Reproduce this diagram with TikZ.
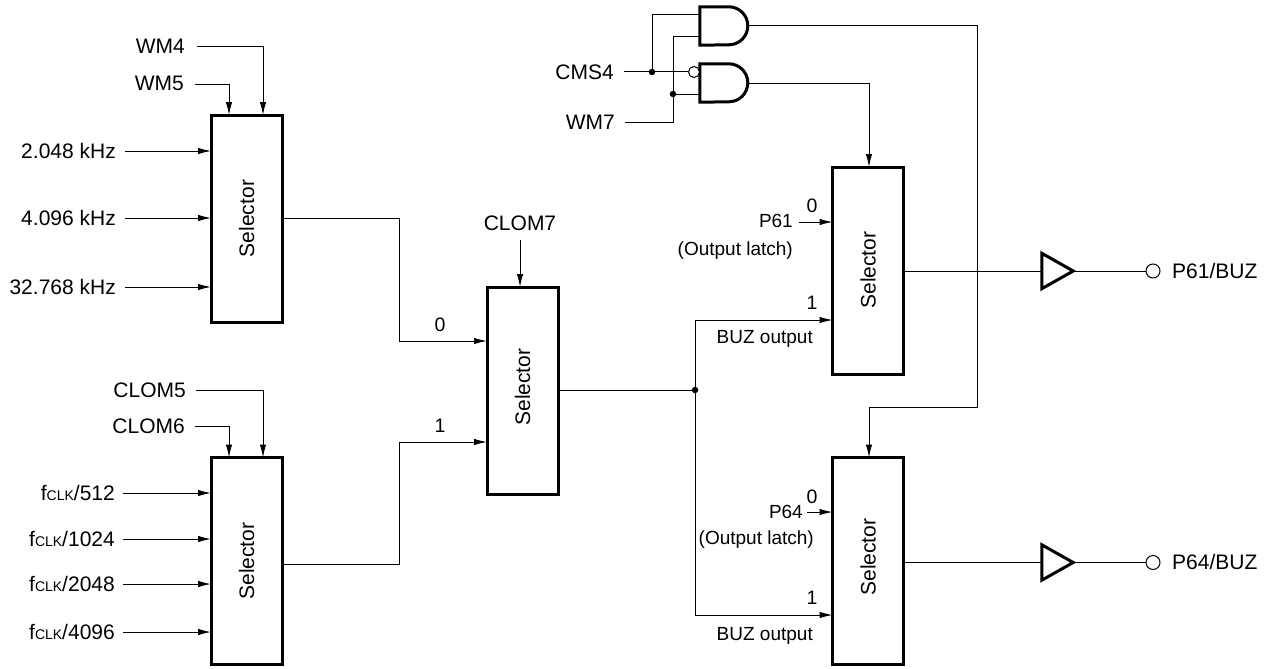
\documentclass[tikz,border=0pt]{standalone}
\usepackage{fontspec}
\setmainfont{Liberation Sans}
\usetikzlibrary{arrows.meta}
\tikzset{
  wire/.style={line width=1pt,line join=miter},
  arr/.style={wire,-{Latex[length=13pt,width=6.5pt]}},
  heavy/.style={line width=3pt,line join=miter},
  selbox/.style={draw,line width=3pt,outer sep=0pt,minimum width=71pt,minimum height=207pt,inner sep=0pt},
  seltext/.style={rotate=90,font=\fontsize{21}{24}\selectfont},
  lbl/.style={inner ysep=0pt,inner xsep=9pt,anchor=east,text height=14pt,text depth=0pt,font=\fontsize{21}{24}\selectfont},
  small/.style={inner sep=0pt,anchor=east,text height=13pt,text depth=0pt,font=\fontsize{19}{22}\selectfont},
  num/.style={inner sep=0pt,text height=12pt,text depth=0pt,font=\fontsize{19.5}{22}\selectfont},
  dotj/.style={circle,fill,inner sep=0pt,minimum size=6.5pt},
  bub/.style={circle,draw,fill=white,line width=1pt,inner sep=0pt,minimum size=14pt},
  gatebox/.style={inner sep=0pt,minimum width=48pt,minimum height=38pt},
  bufbox/.style={inner sep=0pt,minimum width=31pt,minimum height=35pt},
}
\newcommand{\fclk}[1]{f{\fontsize{14}{16}\selectfont CLK}/#1}
\begin{document}
\begin{tikzpicture}[x=1pt,y=-1pt]
\useasboundingbox (0,0) rectangle (1266,669);
% selectors
\node[selbox] (selA) at (246.5,218.5) {};
\node[selbox] (selB) at (246.5,561) {};
\node[selbox] (selC) at (522.5,390.5) {};
\node[selbox] (selD) at (868,270.5) {};
\node[selbox] (selE) at (868,561) {};
\node[seltext] (selAt) at (selA.center) {Selector};
\node[seltext] (selBt) at (selB.center) {Selector};
\node[seltext] (selCt) at (522.5,387) {Selector};
\node[seltext] (selDt) at (868,270) {Selector};
\node[seltext] (selEt) at (868,557) {Selector};
% left inputs A
\node[lbl,inner xsep=12pt] (wm4) at (197,47) {WM4};
\node[lbl,inner xsep=11pt] (wm5) at (195,84) {WM5};
\draw[arr] (wm4.east) -- (263,47) coordinate (wm4c) -- (wm4c |- selA.north);
\draw[arr] (wm5.east) -- (229,84) coordinate (wm5c) -- (wm5c |- selA.north);
\node[lbl] (fa) at (125,151) {2.048 kHz};
\node[lbl] (fb) at (125,218) {4.096 kHz};
\node[lbl] (fc) at (125,287) {32.768 kHz};
\foreach \n in {fa,fb,fc} \draw[arr] (\n.east) -- (\n.east -| selA.west);
% left inputs B
\node[lbl,inner xsep=10pt] (cl5) at (196,390) {CLOM5};
\node[lbl,inner xsep=10pt] (cl6) at (195,426) {CLOM6};
\draw[arr] (cl5.east) -- (263,390) coordinate (cl5c) -- (cl5c |- selB.north);
\draw[arr] (cl6.east) -- (229,426) coordinate (cl6c) -- (cl6c |- selB.north);
\node[lbl,inner xsep=8pt] (k1) at (123,493) {\fclk{512}};
\node[lbl,inner xsep=8pt] (k2) at (123,539) {\fclk{1024}};
\node[lbl,inner xsep=8pt] (k3) at (123,584) {\fclk{2048}};
\node[lbl,inner xsep=8pt] (k4) at (123,632) {\fclk{4096}};
\foreach \n in {k1,k2,k3,k4} \draw[arr] (\n.east) -- (\n.east -| selB.west);
% middle
\coordinate (ain) at (selC.west |- 0,341);
\coordinate (bin) at (selC.west |- 0,442);
\draw[arr] (selA.east |- 0,218) -- (399,218) -- (399,341) -- (ain);
\draw[arr] (selB.east |- 0,564) -- (399,564) -- (399,442) -- (bin);
\node[num] (n0a) at (440,325) {0};
\node[num] (n1a) at (440,426) {1};
\node[lbl,anchor=center] (clom7) at (520,223) {CLOM7};
\draw[arr] (520,240) coordinate (c7) -- (c7 |- selC.north);
% junction
\node[dotj] (jm) at (695,390) {};
\draw[wire] (selC.east |- jm) -- (jm);
\coordinate (d1) at (selD.west |- 0,320);
\coordinate (e1) at (selE.west |- 0,615);
\draw[arr] (jm) -- (695,320) -- (d1);
\draw[arr] (jm) -- (695,615) -- (e1);
% selector D labels
\node[small] (p61) at (793,221) {P61};
\draw[arr] (799,222) coordinate (p61a) -- (p61a -| selD.west);
\node[num] (n0d) at (812,206) {0};
\node[small] (la1) at (793,249) {(Output latch)};
\node[num] (n1d) at (812,303) {1};
\node[small] (buz1) at (813,337) {BUZ output};
% selector E labels
\node[small] (p64) at (803,512) {P64};
\draw[arr] (807,512) coordinate (p64a) -- (p64a -| selE.west);
\node[num] (n0e) at (812,497) {0};
\node[small] (la2) at (814,538) {(Output latch)};
\node[num] (n1e) at (812,598) {1};
\node[small] (buz2) at (813,634) {BUZ output};
% gates
\node[gatebox] (g1) at (724,26) {};
\node[gatebox] (g2) at (724,83) {};
\foreach \g in {g1,g2}
  \draw[heavy] (\g.north west) -- ++(29,0) arc (-90:90:19) -- (\g.south west) -- cycle;
\node[lbl,inner xsep=10pt] (cms) at (624,72) {CMS4};
\node[lbl,inner xsep=10pt] (wm7) at (625,122) {WM7};
\node[bub,minimum size=11pt] (bb) at (694,72) {};
\node[dotj] (j1) at (652,72) {};
\node[dotj] (j2) at (673,94) {};
\draw[wire] (cms.east) -- (j1) -- (bb);
\draw[wire] (j1) -- (652,15) -- (g1.west |- 0,15);
\draw[wire] (wm7.east) -- (673,122) -- (j2) -- (673,37) -- (g1.west |- 0,37);
\draw[wire] (j2) -- (g2.west |- j2);
\coordinate (g1o) at (g1.east);
\coordinate (g2o) at (g2.east);
\draw[arr] (g1o) -- (977,26) -- (977,407) -- (869,407) coordinate (g1t) -- (g1t |- selE.north);
\draw[arr] (g2o) -- (869,83) coordinate (g2t) -- (g2t |- selD.north);
% outputs
\node[bufbox] (b1) at (1057.5,271) {};
\node[bufbox] (b2) at (1057.5,562.5) {};
\foreach \b in {b1,b2}
  \draw[heavy] (\b.north west) -- (\b.east) -- (\b.south west) -- cycle;
\node[bub] (o1) at (1153,271) {};
\node[bub] (o2) at (1153,562.5) {};
\draw[wire] (selD.east |- b1) -- (b1.west);
\draw[wire] (selE.east |- b2) -- (b2.west);
\draw[wire] (b1.east) -- (o1);
\draw[wire] (b2.east) -- (o2);
\node[lbl,anchor=west] (t1) at (1163,271) {P61/BUZ};
\node[lbl,anchor=west] (t2) at (1163,562.5) {P64/BUZ};
\end{tikzpicture}
\end{document}
